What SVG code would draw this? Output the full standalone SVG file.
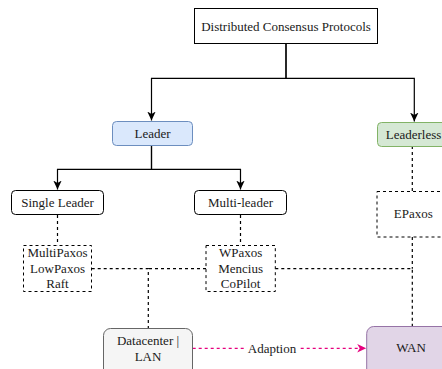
<svg xmlns="http://www.w3.org/2000/svg" width="442" height="369" viewBox="0 0 442 369">
<defs>
<style>
text{font-family:'Liberation Serif','DejaVu Serif',serif;font-size:13px;fill:#1a1a1a;text-anchor:middle}
.solid{fill:#fff;stroke:#000;stroke-width:1}
.dbox{fill:#fff;stroke:#000;stroke-width:1;stroke-dasharray:3 3}
.edge{fill:none;stroke:#000;stroke-width:1.2}
.dedge{fill:none;stroke:#000;stroke-width:1.2;stroke-dasharray:3 3}
.pedge{fill:none;stroke:#e6007e;stroke-width:1.2;stroke-dasharray:3 3}
</style>
<marker id="arr" markerWidth="10" markerHeight="10" viewBox="0 0 10 10" refX="9" refY="5" orient="auto" markerUnits="userSpaceOnUse">
<path d="M0,0.8 L9,5 L0,9.2 L2.5,5 z" fill="#000"/>
</marker>
<marker id="parr" markerWidth="10" markerHeight="10" viewBox="0 0 10 10" refX="9" refY="5" orient="auto" markerUnits="userSpaceOnUse">
<path d="M0,0.8 L9,5 L0,9.2 L2.5,5 z" fill="#e6007e"/>
</marker>
</defs>
<g id="connectors" font-family="Liberation Serif, serif">
<path class="edge" d="M286,43.5 V78.3 H151.5 V120.5" marker-end="url(#arr)"/>
<path class="edge" d="M286,43.5 V78.3 H414.3 V121.5" marker-end="url(#arr)"/>
<path class="edge" d="M151.5,145 V169.3 H57.5 V189.5" marker-end="url(#arr)"/>
<path class="edge" d="M151.5,145 V169.3 H240.5 V189.5" marker-end="url(#arr)"/>
<path class="dedge" d="M57.5,215 V245.3"/>
<path class="dedge" d="M240.5,215 V245.3"/>
<path class="dedge" d="M412.3,146 V191.5"/>
<path class="dedge" d="M91.7,268.7 H148.3 V328.3"/>
<path class="dedge" d="M206,268.7 H148.3"/>
<path class="dedge" d="M275.3,268.7 H412.3 V326"/>
<path class="dedge" d="M412.3,237 V268.7"/>
<path class="pedge" d="M192.7,348.3 H366.2" marker-end="url(#parr)"/>
<rect x="246" y="340" width="52" height="15" fill="#fff"/>
<text x="272" y="353">Adaption</text>
</g>
<g id="root" font-family="Liberation Serif, serif">
<rect class="solid" x="194.5" y="8.5" width="183" height="35"/>
<text x="286" y="30.5">Distributed Consensus Protocols</text>
</g>
<g id="leader" font-family="Liberation Serif, serif">
<rect x="112.5" y="121.5" width="80" height="24" rx="4" fill="#dae8fc" stroke="#6c8ebf"/>
<text x="152.5" y="138">Leader</text>
</g>
<g id="leaderless" font-family="Liberation Serif, serif">
<rect x="377.5" y="122.5" width="80" height="24" rx="4" fill="#d5e8d4" stroke="#82b366"/>
<text x="413.5" y="138.5">Leaderless</text>
</g>
<g id="single-leader" font-family="Liberation Serif, serif">
<rect class="solid" x="11.5" y="190.5" width="92" height="24" rx="4"/>
<text x="57.5" y="207.3">Single Leader</text>
</g>
<g id="multi-leader" font-family="Liberation Serif, serif">
<rect class="solid" x="194.5" y="190.5" width="92" height="24" rx="4"/>
<text x="240.5" y="207.3">Multi-leader</text>
</g>
<g id="epaxos" font-family="Liberation Serif, serif">
<rect class="dbox" x="377" y="191.5" width="72" height="45.5"/>
<text x="413.3" y="217.5">EPaxos</text>
</g>
<g id="single-protocols" font-family="Liberation Serif, serif">
<rect class="dbox" x="23.5" y="245.5" width="68" height="46"/>
<text x="57.5" y="257.3">MultiPaxos</text>
<text x="57.5" y="272.7">LowPaxos</text>
<text x="57.5" y="288.3">Raft</text>
</g>
<g id="multi-protocols" font-family="Liberation Serif, serif">
<rect class="dbox" x="206" y="245.5" width="69.3" height="46"/>
<text x="240.6" y="257.3">WPaxos</text>
<text x="240.6" y="272.7">Mencius</text>
<text x="240.6" y="288.3">CoPilot</text>
</g>
<g id="datacenter" font-family="Liberation Serif, serif">
<rect x="103.5" y="328.5" width="89" height="48" rx="7" fill="#f5f5f5" stroke="#666666"/>
<text x="148" y="345">Datacenter |</text>
<text x="148" y="360.7">LAN</text>
</g>
<g id="wan" font-family="Liberation Serif, serif">
<rect x="366.7" y="326.5" width="90" height="50" rx="7" fill="#e1d5e7" stroke="#9673a6"/>
<text x="411" y="352.3">WAN</text>
</g>
</svg>
